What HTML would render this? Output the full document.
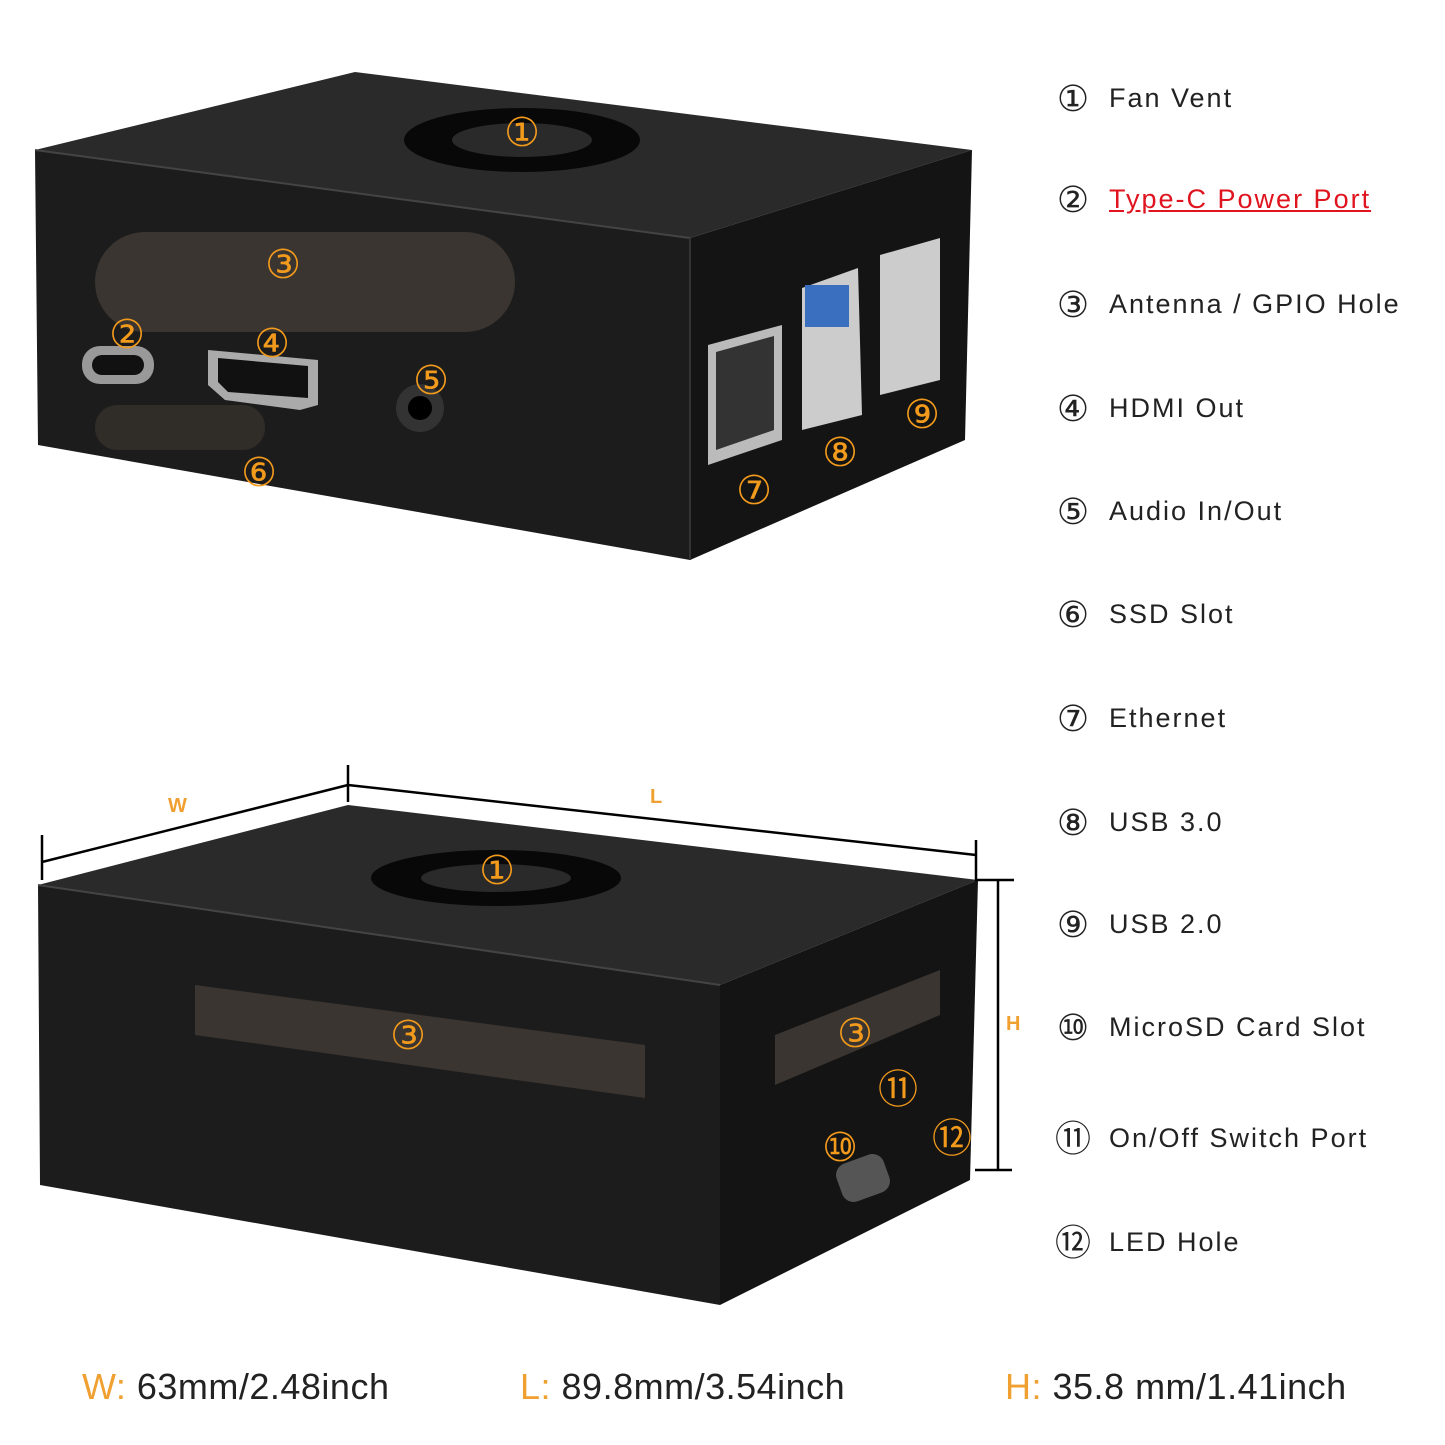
<!DOCTYPE html>
<html><head><meta charset="utf-8"><style>
html,body{margin:0;padding:0;background:#fff;}
body{width:1445px;height:1445px;overflow:hidden;position:relative;font-family:"Liberation Sans","DejaVu Sans",sans-serif;}
.lbl{position:absolute;left:1053px;font-size:27px;color:#222;letter-spacing:2px;white-space:nowrap;}
.lbl .c{display:inline-block;width:40px;font-size:36px;vertical-align:-4px;margin-right:16px;text-align:center;letter-spacing:0;}
.red{color:#e0141e;text-decoration:underline;}
.dim{position:absolute;top:1366px;font-size:36px;color:#222;white-space:nowrap;letter-spacing:0.5px;}
.dim b{color:#f0a030;font-weight:normal;}
</style></head><body>
<svg width="1445" height="1445" style="position:absolute;left:0;top:0">
<polygon points="35,150 355,72 972,150 690,238" fill="#2a2a2a"/>
<polygon points="35,150 690,238 690,560 38,445" fill="#1c1c1c"/>
<polygon points="690,238 972,150 965,440 690,560" fill="#141414"/>
<line x1="35" y1="150" x2="690" y2="238" stroke="#444" stroke-width="2"/>
<line x1="690" y1="238" x2="690" y2="560" stroke="#333" stroke-width="2"/>
<ellipse cx="522" cy="140" rx="118" ry="32" fill="#080808"/>
<ellipse cx="522" cy="140" rx="70" ry="17" fill="#2a2a2a"/>
<rect x="95" y="232" width="420" height="100" rx="50" fill="#3a3530"/>
<rect x="95" y="405" width="170" height="45" rx="22" fill="#302c28"/>
<rect x="82" y="346" width="72" height="38" rx="18" fill="#999"/>
<rect x="92" y="355" width="52" height="20" rx="10" fill="#111"/>
<polygon points="208,350 318,360 318,405 300,410 225,400 208,385" fill="#aaa"/>
<polygon points="218,358 308,366 308,398 228,392 218,382" fill="#111"/>
<circle cx="420" cy="408" r="24" fill="#333"/><circle cx="420" cy="408" r="12" fill="#000"/>
<polygon points="708,345 782,325 782,440 708,465" fill="#bbb"/>
<polygon points="716,352 774,336 774,430 716,450" fill="#333"/>
<polygon points="802,288 858,268 862,415 802,430" fill="#ccc"/>
<rect x="805" y="285" width="44" height="42" fill="#3a6fc0"/>
<polygon points="880,255 940,238 940,380 880,395" fill="#ccc"/>
<polygon points="38,885 348,805 978,880 720,985" fill="#2a2a2a"/>
<polygon points="38,885 720,985 720,1305 40,1185" fill="#1c1c1c"/>
<polygon points="720,985 978,880 970,1180 720,1305" fill="#141414"/>
<line x1="38" y1="885" x2="720" y2="985" stroke="#444" stroke-width="2"/>
<ellipse cx="496" cy="878" rx="125" ry="28" fill="#080808"/>
<ellipse cx="496" cy="878" rx="75" ry="14" fill="#2a2a2a"/>
<polygon points="195,985 645,1045 645,1098 195,1035" fill="#3a3530"/>
<polygon points="775,1035 940,970 940,1015 775,1085" fill="#3a3530"/>
<rect x="838" y="1158" width="50" height="40" rx="12" fill="#555" transform="rotate(-20 863 1178)"/>
<g stroke="#000" stroke-width="2.5" fill="none">
<line x1="42" y1="862" x2="348" y2="785"/>
<line x1="42" y1="835" x2="42" y2="880"/>
<line x1="348" y1="765" x2="348" y2="802"/>
<line x1="348" y1="785" x2="976" y2="855"/>
<line x1="976" y1="840" x2="976" y2="880"/>
<line x1="998" y1="880" x2="998" y2="1170"/>
<line x1="975" y1="880" x2="1014" y2="880"/>
<line x1="975" y1="1170" x2="1012" y2="1170"/>
</g>
<g font-family="Liberation Sans,sans-serif" font-weight="bold" font-size="20" fill="#f0a030">
<text x="168" y="812">W</text><text x="650" y="803">L</text><text x="1006" y="1030">H</text>
</g>
<g font-family="DejaVu Sans,sans-serif" font-size="40" fill="#f29a1c" text-anchor="middle">
<text x="522" y="146">①</text><text x="127" y="348">②</text><text x="283" y="278">③</text>
<text x="272" y="357">④</text><text x="431" y="394">⑤</text><text x="259" y="486">⑥</text>
<text x="754" y="504">⑦</text><text x="840" y="466">⑧</text><text x="922" y="428">⑨</text>
<text x="497" y="884">①</text><text x="408" y="1049">③</text><text x="855" y="1047">③</text>
<text x="898" y="1103">⑪</text><text x="840" y="1161">⑩</text><text x="952" y="1152">⑫</text>
</g>
</svg>
<div class="lbl" style="top:78px"><span class="c">①</span>Fan Vent</div>
<div class="lbl" style="top:179px"><span class="c">②</span><span class="red">Type-C Power Port</span></div>
<div class="lbl" style="top:284px"><span class="c">③</span>Antenna / GPIO Hole</div>
<div class="lbl" style="top:388px"><span class="c">④</span>HDMI Out</div>
<div class="lbl" style="top:491px"><span class="c">⑤</span>Audio In/Out</div>
<div class="lbl" style="top:594px"><span class="c">⑥</span>SSD Slot</div>
<div class="lbl" style="top:698px"><span class="c">⑦</span>Ethernet</div>
<div class="lbl" style="top:802px"><span class="c">⑧</span>USB 3.0</div>
<div class="lbl" style="top:904px"><span class="c">⑨</span>USB 2.0</div>
<div class="lbl" style="top:1007px"><span class="c">⑩</span>MicroSD Card Slot</div>
<div class="lbl" style="top:1110px"><span class="c">⑪</span>On/Off Switch Port</div>
<div class="lbl" style="top:1214px"><span class="c">⑫</span>LED Hole</div>
<div class="dim" style="left:82px"><b>W:</b> 63mm/2.48inch</div>
<div class="dim" style="left:520px"><b>L:</b> 89.8mm/3.54inch</div>
<div class="dim" style="left:1005px"><b>H:</b> 35.8 mm/1.41inch</div>
</body></html>
